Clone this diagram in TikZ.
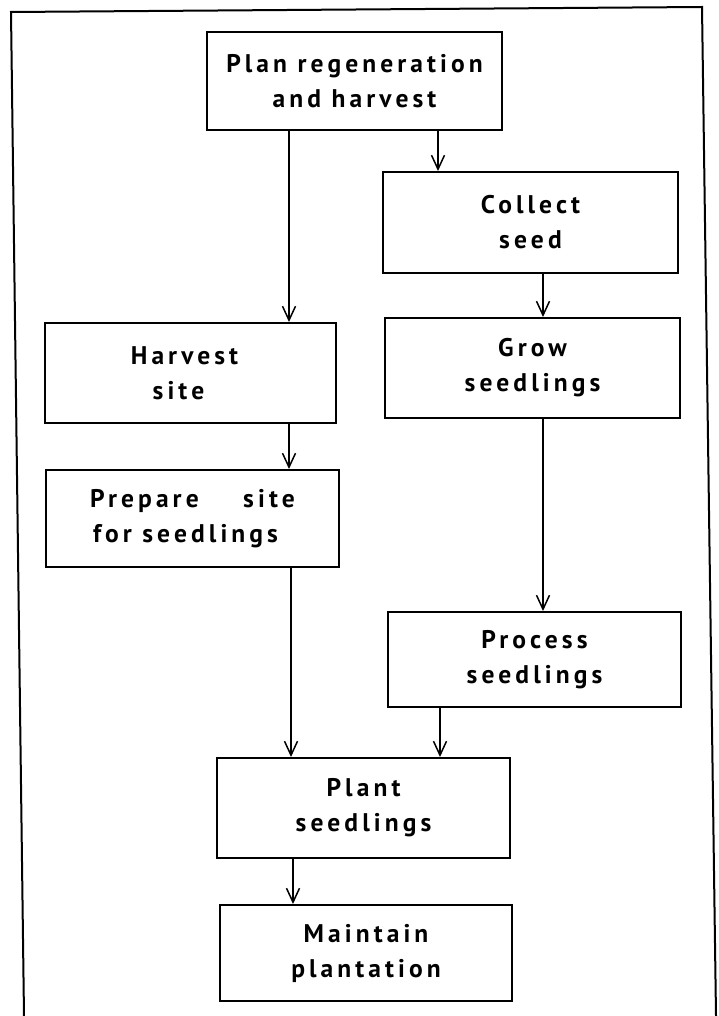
\documentclass[tikz,border=0pt]{standalone}
\usepackage{fontspec}
\usetikzlibrary{arrows.meta}
\newfontfamily\boxfont[LetterSpace=16]{PT Sans}
\begin{document}
\begin{tikzpicture}[x=1pt,y=-1pt,
  stepbox/.style={draw, line width=2pt, rectangle, align=center, inner sep=0pt,
    font=\boxfont\bfseries\fontsize{25.5}{35}\selectfont},
  arr/.style={line width=1.6pt, -{Straight Barb[length=14pt,width=13pt,line width=1.5pt]}}]
\useasboundingbox (0,0) rectangle (719,1016);
% frame
\draw[line width=2pt] (24,1016) -- (11,12) -- (702,7) -- (716,1016);
% boxes
\node[stepbox, minimum width=295pt, minimum height=98pt] (plan) at (354.5,81) {Plan regeneration\\and harvest};
\node[stepbox, minimum width=295pt, minimum height=101pt] (collect) at (530.5,222.5) {Collect\\seed};
\node[stepbox, minimum width=291pt, minimum height=100pt] (harvest) at (190.5,373) {\hspace*{-12pt}Harvest\\\hspace*{-24pt}site};
\node[stepbox, minimum width=295pt, minimum height=100pt] (grow) at (532.5,368) {Grow\\seedlings};
\node[stepbox, minimum width=293pt, minimum height=97pt] (prepare) at (192.5,518.5) {Prepare\hspace{34pt} site\\\hspace*{-14pt}for seedlings};
\node[stepbox, minimum width=293pt, minimum height=95pt] (process) at (534.5,659.5) {Process\\seedlings};
\node[stepbox, minimum width=293pt, minimum height=100pt] (plant) at (363.5,808) {Plant\\seedlings};
\node[stepbox, minimum width=292pt, minimum height=96pt] (maintain) at (366,953) {Maintain\\plantation};
% arrow columns
\coordinate (cA) at (289,0);
\coordinate (cB) at (438,0);
\coordinate (cC) at (543,0);
\coordinate (cD) at (291,0);
\coordinate (cE) at (440,0);
\coordinate (cF) at (293,0);
% connectors
\draw[arr] (plan.south -| cA) -- (harvest.north -| cA);
\draw[arr] (plan.south -| cB) -- (collect.north -| cB);
\draw[arr] (collect.south -| cC) -- (grow.north -| cC);
\draw[arr] (harvest.south -| cA) -- (prepare.north -| cA);
\draw[arr] (grow.south -| cC) -- (process.north -| cC);
\draw[arr] (prepare.south -| cD) -- (plant.north -| cD);
\draw[arr] (process.south -| cE) -- (plant.north -| cE);
\draw[arr] (plant.south -| cF) -- (maintain.north -| cF);
\end{tikzpicture}
\end{document}
